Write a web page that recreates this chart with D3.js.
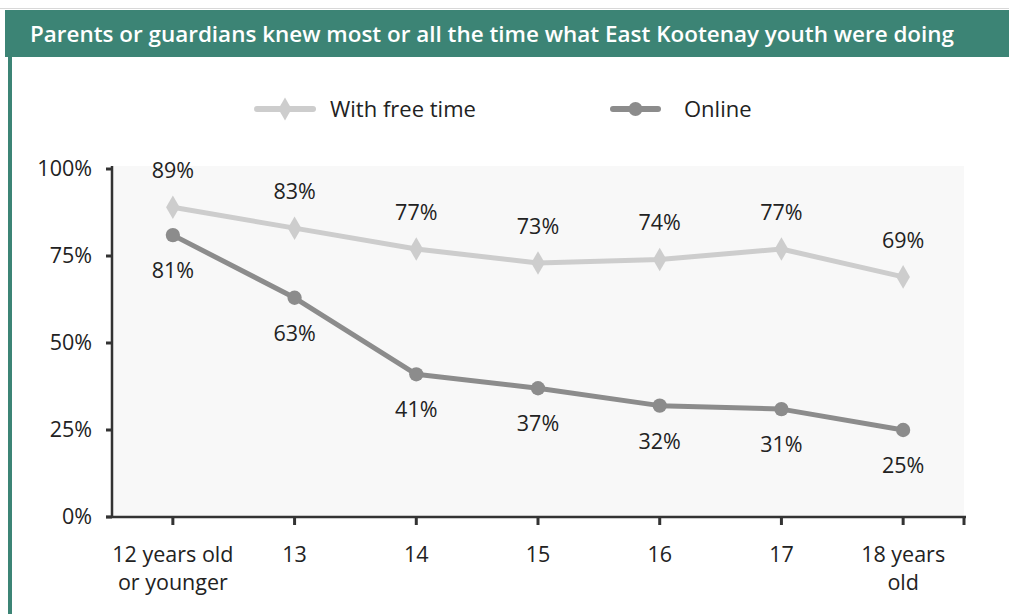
<!DOCTYPE html>
<html>
<head>
<meta charset="utf-8">
<script src="https://cdn.jsdelivr.net/npm/d3@7"></script>
<style>
  body { margin: 0; background: #fff; }
  svg { display: block; font-family: "Open Sans", "Noto Sans", sans-serif; }
</style>
</head>
<body>
<svg id="chart" width="1009" height="614"></svg>
<script>
const title = 'Parents or guardians knew most or all the time what East Kootenay youth were doing';
const categories = ['12 years old|or younger', '13', '14', '15', '16', '17', '18 years|old'];
const freeTime = [89, 83, 77, 73, 74, 77, 69];
const online = [81, 63, 41, 37, 32, 31, 25];
const yTicks = [0, 25, 50, 75, 100];

const fontSize = 21.5;
const svg = d3.select('#chart');

// frame
svg.append('line')
  .attr('x1', 0).attr('x2', 1009).attr('y1', 8.5).attr('y2', 8.5)
  .attr('stroke', '#d8d8d8').attr('stroke-width', 1);
svg.append('rect')
  .attr('x', 5).attr('y', 10).attr('width', 1004).attr('height', 47)
  .attr('fill', '#3c8475');
svg.append('rect')
  .attr('x', 8).attr('y', 57).attr('width', 4).attr('height', 557)
  .attr('fill', '#3c8475');
svg.append('text')
  .attr('x', 30).attr('y', 42)
  .attr('fill', '#fff')
  .attr('font-size', 21)
  .attr('font-weight', 600)
  .attr('textLength', 924)
  .attr('lengthAdjust', 'spacingAndGlyphs')
  .text(title);

const plot = { left: 112, right: 964, top: 166, bottom: 517 };

const x = d3.scaleBand()
  .domain(categories)
  .range([plot.left, plot.right]);

const y = d3.scaleLinear()
  .domain([0, 100])
  .range([plot.bottom, plot.top + 3]);

svg.append('rect')
  .attr('x', plot.left).attr('y', plot.top)
  .attr('width', plot.right - plot.left).attr('height', plot.bottom - plot.top)
  .attr('fill', '#f8f8f8');

const cx = (c) => x(c) + x.bandwidth() / 2;

// x axis
const xAxis = svg.append('g')
  .attr('transform', 'translate(0,' + plot.bottom + ')');
xAxis.append('line')
  .attr('x1', plot.left - 6).attr('x2', plot.right + 2)
  .attr('stroke', '#333').attr('stroke-width', 2.5);
xAxis.selectAll('.tick')
  .data(categories.map(cx).concat([plot.right]))
  .enter().append('line')
    .attr('x1', d => d).attr('x2', d => d)
    .attr('y1', 0).attr('y2', 8)
    .attr('stroke', '#333').attr('stroke-width', 3);
xAxis.selectAll('.label')
  .data(categories)
  .enter().append('text')
    .attr('text-anchor', 'middle')
    .attr('font-size', fontSize)
    .attr('fill', '#222')
    .each(function(d) {
      const parts = d.split('|');
      d3.select(this).selectAll('tspan')
        .data(parts)
        .enter().append('tspan')
          .attr('x', cx(d))
          .attr('y', (p, i) => 45 + i * 28)
          .text(p => p);
    });

// y axis
const yAxis = svg.append('g')
  .attr('transform', 'translate(' + plot.left + ',0)');
yAxis.append('line')
  .attr('y1', plot.top).attr('y2', plot.bottom + 1)
  .attr('stroke', '#333').attr('stroke-width', 2.5);
yAxis.selectAll('.tick')
  .data(yTicks)
  .enter().append('line')
    .attr('x1', -6).attr('x2', 0)
    .attr('y1', d => y(d)).attr('y2', d => y(d))
    .attr('stroke', '#333').attr('stroke-width', 3);
yAxis.selectAll('.label')
  .data(yTicks)
  .enter().append('text')
    .attr('x', -20)
    .attr('y', d => y(d))
    .attr('dy', '0.32em')
    .attr('text-anchor', 'end')
    .attr('font-size', fontSize)
    .attr('fill', '#222')
    .text(d => d + '%');

const line = d3.line()
  .x((d, i) => cx(categories[i]))
  .y(d => y(d));

const series = [
  { name: 'With free time', values: freeTime, color: '#cdcdcd', symbol: d3.symbolDiamond, labelDy: -29 },
  { name: 'Online', values: online, color: '#8c8c8c', symbol: d3.symbolCircle, labelDy: 43 }
];

series.forEach(s => {
  svg.append('path')
    .datum(s.values)
    .attr('fill', 'none')
    .attr('stroke', s.color)
    .attr('stroke-width', 5)
    .attr('stroke-linejoin', 'round')
    .attr('d', line);

  svg.selectAll(null)
    .data(s.values)
    .enter().append('path')
      .attr('transform', (d, i) => 'translate(' + cx(categories[i]) + ',' + y(d) + ')')
      .attr('d', d3.symbol().type(s.symbol).size(160))
      .attr('fill', s.color);

  svg.selectAll(null)
    .data(s.values)
    .enter().append('text')
      .attr('x', (d, i) => cx(categories[i]))
      .attr('y', d => y(d) + s.labelDy)
      .attr('text-anchor', 'middle')
      .attr('font-size', fontSize)
      .attr('fill', '#222')
      .text(d => d + '%');
});

// legend
const legend = [
  { s: series[0], x1: 257, x2: 313, tx: 330 },
  { s: series[1], x1: 613, x2: 658, tx: 684 }
];
legend.forEach(l => {
  const g = svg.append('g').attr('transform', 'translate(0,109)');
  g.append('line')
    .attr('x1', l.x1).attr('x2', l.x2)
    .attr('stroke', l.s.color).attr('stroke-width', 6)
    .attr('stroke-linecap', 'round');
  g.append('path')
    .attr('transform', 'translate(' + (l.x1 + l.x2) / 2 + ',0)')
    .attr('d', d3.symbol().type(l.s.symbol).size(150))
    .attr('fill', l.s.color);
  g.append('text')
    .attr('x', l.tx).attr('dy', '0.35em')
    .attr('font-size', fontSize + 0.5)
    .attr('fill', '#222')
    .text(l.s.name);
});
</script>
</body>
</html>
